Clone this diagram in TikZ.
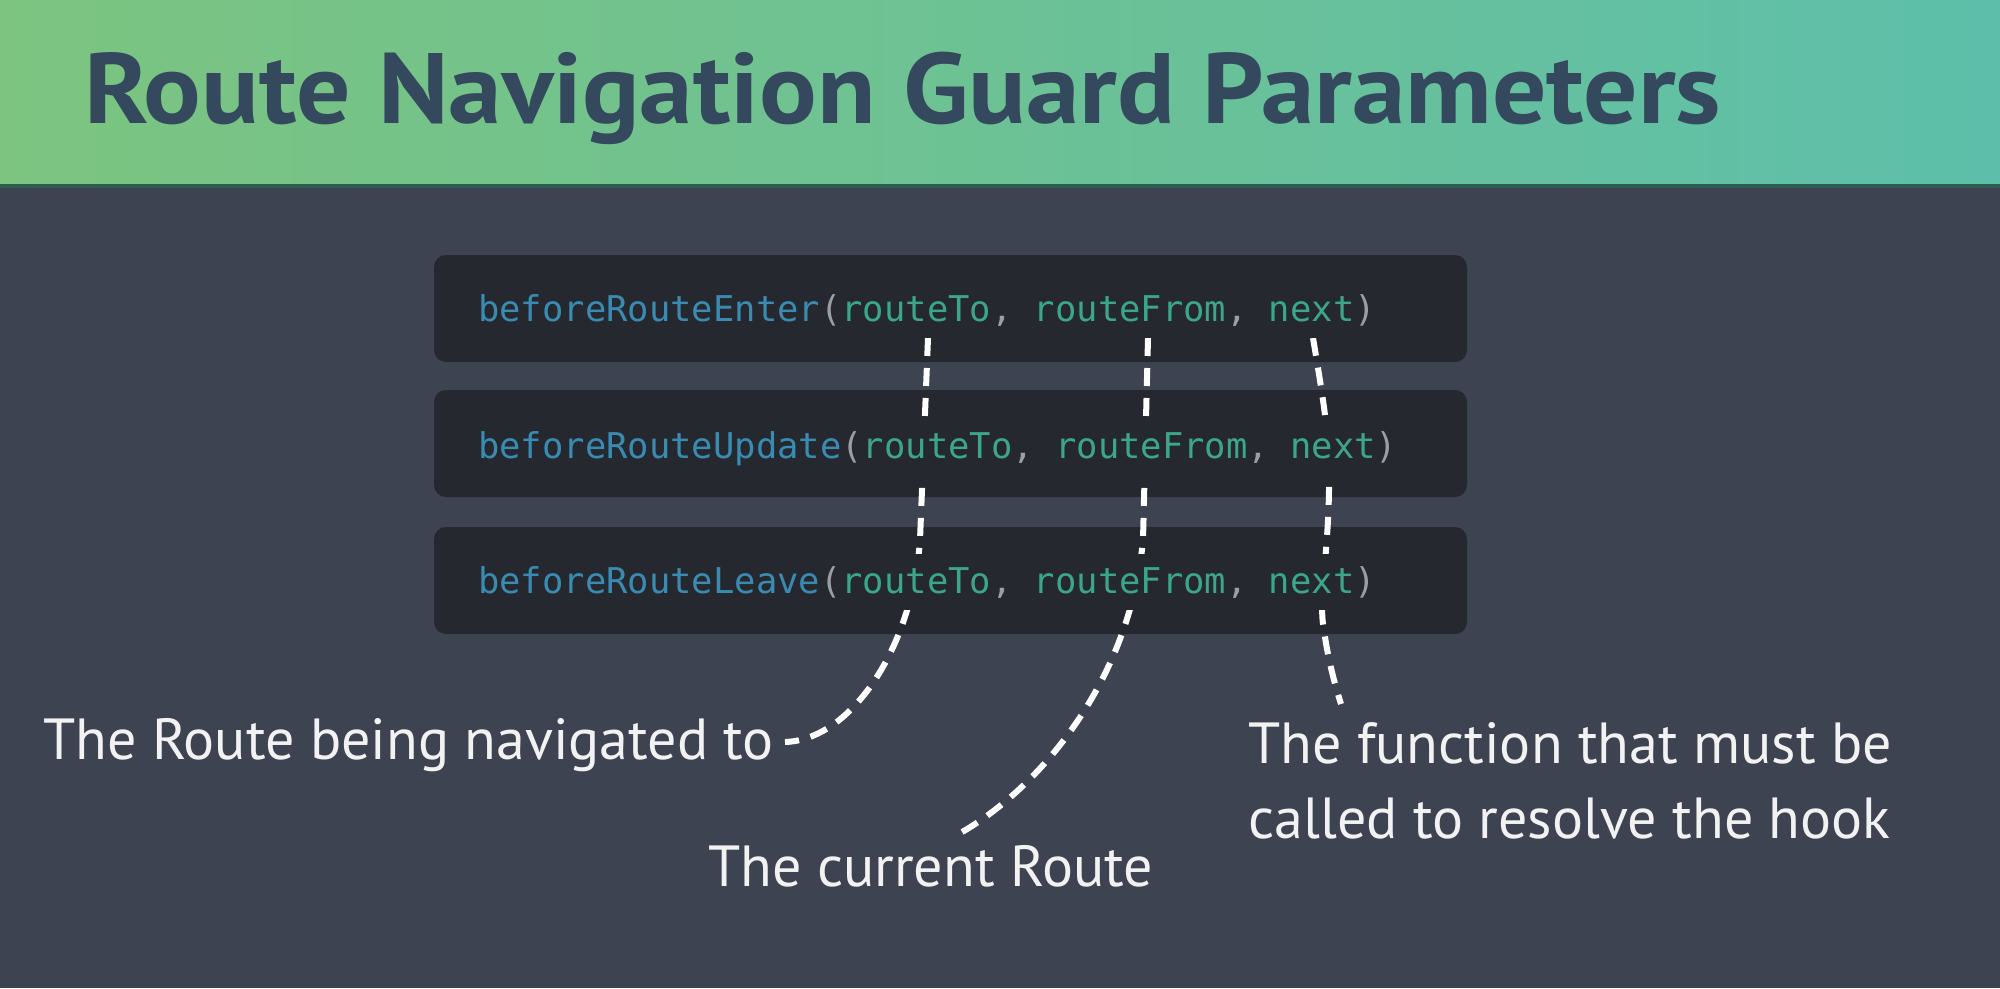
\documentclass[tikz,border=0pt]{standalone}
\usepackage{fontspec}
\newfontfamily\titlefont{PT Sans}[BoldFont={PT Sans Bold}]
\newfontfamily\labelfont{PT Sans}
\newfontfamily\codefont{DejaVu Sans Mono}
\definecolor{hdrL}{HTML}{7CC480}
\definecolor{hdrR}{HTML}{5DBFAA}
\definecolor{hdrEdge}{HTML}{2E5E52}
\definecolor{bgc}{HTML}{3E4351}
\definecolor{boxc}{HTML}{25282F}
\definecolor{titlec}{HTML}{35495E}
\definecolor{fnc}{HTML}{3A8BB2}
\definecolor{argc}{HTML}{3CA68A}
\definecolor{punc}{HTML}{9A9EA6}
\definecolor{labc}{HTML}{F2F2F2}
\newcommand{\fn}[1]{\textcolor{fnc}{#1}}
\newcommand{\ar}[1]{\textcolor{argc}{#1}}
\newcommand{\pu}[1]{\textcolor{punc}{#1}}
\begin{document}
\begin{tikzpicture}[x=1pt,y=-1pt,
  codebox/.style={fill=boxc,rounded corners=12pt},
  codeline/.style={anchor=base west,inner xsep=2pt,inner ysep=12pt,fill=boxc,
     font=\codefont\fontsize{35.5pt}{40pt}\selectfont},
  lab/.style={anchor=base west,inner sep=0pt,text=labc,
     font=\labelfont\fontsize{58pt}{75pt}\selectfont},
  guide/.style={draw=white,line width=6pt,dash pattern=on 18pt off 12pt}]
\useasboundingbox (0,0) rectangle (2000,988);
% background
\fill[bgc] (0,0) rectangle (2000,988);
\shade[left color=hdrL,right color=hdrR] (0,0) rectangle (2000,185);
\fill[hdrEdge] (0,184) rectangle (2000,188);
\node[anchor=base west,inner sep=0pt,text=titlec,
  font=\titlefont\bfseries\fontsize{100pt}{110pt}\selectfont] (title) at (84,123)
  {\scalebox{1.075}[1]{Route Navigation Guard Parameters}};
% code boxes
\fill[codebox] (434,255) rectangle (1467,362);
\fill[codebox] (434,390) rectangle (1467,497);
\fill[codebox] (434,527) rectangle (1467,634);
% connector anchors
\coordinate (s1) at (928,338);
\coordinate (s2) at (1148,338);
\coordinate (s3) at (1313,338);
\coordinate (e1) at (785,742);
\coordinate (e2) at (955,836);
\coordinate (e3) at (1341,704);
% dashed guides
\draw[guide] (s1) -- (920,540) .. controls (912,650) and (850,740) .. (e1);
\draw[guide] (s2) -- (1143,540) .. controls (1130,680) and (1040,790) .. (e2);
\draw[guide] (s3) .. controls (1325,410) and (1330,440) .. (1329,490)
  .. controls (1328,560) and (1318,600) .. (1324,630)
  .. controls (1328,660) and (1335,685) .. (e3);
% code lines
\node[codeline] (c1) at (476,321)
  {\fn{beforeRouteEnter}\pu{(}\ar{routeTo}\pu{,}\ \ar{routeFrom}\pu{,}\ \ar{next}\pu{)}};
\node[codeline] (c2) at (476,458)
  {\fn{beforeRouteUpdate}\pu{(}\ar{routeTo}\pu{,}\ \ar{routeFrom}\pu{,}\ \ar{next}\pu{)}};
\node[codeline] (c3) at (476,593)
  {\fn{beforeRouteLeave}\pu{(}\ar{routeTo}\pu{,}\ \ar{routeFrom}\pu{,}\ \ar{next}\pu{)}};
% labels
\node[lab] (l1) at (43,759) {The Route being navigated to};
\node[lab] (l2) at (708,886) {The current Route};
\node[lab] (l3a) at (1248,763) {The function that must be};
\node[lab] (l3b) at (1248,838) {called to resolve the hook};
\end{tikzpicture}
\end{document}
